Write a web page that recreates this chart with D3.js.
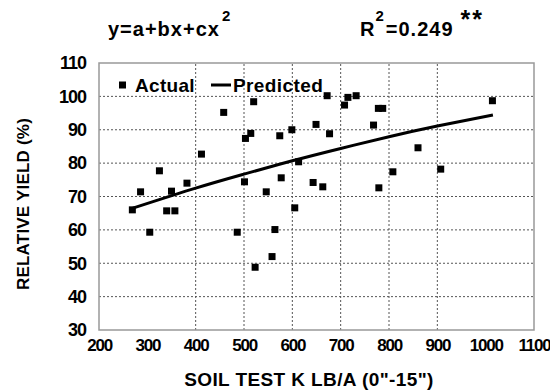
<!DOCTYPE html>
<html>
<head>
<meta charset="utf-8">
<script src="https://cdn.jsdelivr.net/npm/d3@7"></script>
<style>
  body { margin: 0; background: #fff; }
  svg { display: block; font-family: "Liberation Sans", Arial, sans-serif; font-weight: bold; }
</style>
</head>
<body>
<svg id="chart" width="550" height="392"></svg>
<script>
// ---- data ----
const actualX = [269, 286, 305, 325, 340, 350, 357, 382, 412, 458, 486, 501, 503, 514, 520, 523, 546, 558, 564, 574, 577, 599, 605, 613, 643, 649, 663, 672, 677, 708, 715, 732, 768, 778, 787, 779, 808, 860, 907, 1014];
const actualY = [66, 71.4, 59.3, 77.7, 65.7, 71.6, 65.7, 74, 82.7, 95.2, 59.3, 74.4, 87.4, 88.9, 98.4, 48.8, 71.4, 52, 60.1, 88.2, 75.6, 90, 66.6, 80.4, 74.2, 91.6, 72.9, 100.2, 88.8, 97.4, 99.7, 100.2, 91.4, 96.4, 96.4, 72.6, 77.4, 84.6, 78.2, 98.7];
const predX = [270, 400, 500, 600, 700, 800, 900, 1015];
const predY = [66.5, 72.5, 76.7, 80.7, 84.4, 87.9, 91.1, 94.4];
const xTicks = [200, 300, 400, 500, 600, 700, 800, 900, 1000, 1100];
const yTicks = [30, 40, 50, 60, 70, 80, 90, 100, 110];
const xGrid = [400, 500, 600, 700, 800, 900];
const yGrid = [40, 50, 60, 70, 80, 90, 100];

const svg = d3.select("#chart");
const m = { left: 99, right: 16, top: 63, bottom: 62 };
const W = 550, H = 392;
const x = d3.scaleLinear().domain([200, 1100]).range([m.left, W - m.right]);
const y = d3.scaleLinear().domain([30, 110]).range([H - m.bottom, m.top]);

// gridlines
svg.append("g").selectAll("line").data(yGrid).join("line")
  .attr("x1", x(200)).attr("x2", x(1100))
  .attr("y1", d => y(d)).attr("y2", d => y(d))
  .attr("stroke", "#555").attr("stroke-width", 1).attr("stroke-dasharray", "2,2");
svg.append("g").selectAll("line").data(xGrid).join("line")
  .attr("x1", d => x(d)).attr("x2", d => x(d))
  .attr("y1", y(30)).attr("y2", y(110))
  .attr("stroke", "#555").attr("stroke-width", 1).attr("stroke-dasharray", "2,2");

// frame
svg.append("rect")
  .attr("x", x(200)).attr("y", y(110))
  .attr("width", x(1100) - x(200)).attr("height", y(30) - y(110))
  .attr("fill", "none").attr("stroke", "#999").attr("stroke-width", 1.5);

// axes (labels only)
const xAxis = d3.axisBottom(x).tickValues(xTicks).tickFormat(d3.format("d")).tickSize(0).tickPadding(9);
const gx = svg.append("g").attr("transform", `translate(0,${y(30)})`).call(xAxis);
gx.select(".domain").remove();
gx.selectAll("text").attr("font-size", 17).attr("font-weight", "bold").attr("fill", "#000")
  .attr("font-family", "Liberation Sans, Arial, sans-serif").attr("letter-spacing", -1.2);

const yAxis = d3.axisLeft(y).tickValues(yTicks).tickFormat(d3.format("d")).tickSize(0).tickPadding(13);
const gy = svg.append("g").attr("transform", `translate(${x(200)},0)`).call(yAxis);
gy.select(".domain").remove();
gy.selectAll("text").attr("font-size", 18).attr("font-weight", "bold").attr("fill", "#000")
  .attr("font-family", "Liberation Sans, Arial, sans-serif").attr("letter-spacing", -1);

// predicted curve
const line = d3.line().x(d => x(d[0])).y(d => y(d[1])).curve(d3.curveNatural);
svg.append("path").datum(predX.map((v, i) => [v, predY[i]]))
  .attr("d", line).attr("fill", "none").attr("stroke", "#000").attr("stroke-width", 3);

// actual points
const s = 7;
svg.append("g").selectAll("rect").data(actualX.map((v, i) => [v, actualY[i]])).join("rect")
  .attr("x", d => x(d[0]) - s / 2).attr("y", d => y(d[1]) - s / 2)
  .attr("width", s).attr("height", s).attr("fill", "#000");

// legend
const ly = 85;
svg.append("rect").attr("x", 119).attr("y", ly - 3.5).attr("width", 7).attr("height", 7).attr("fill", "#000");
svg.append("text").attr("x", 135).attr("y", ly + 7).attr("font-size", 19).attr("letter-spacing", 0.3).text("Actual");
svg.append("line").attr("x1", 211).attr("x2", 231).attr("y1", ly).attr("y2", ly).attr("stroke", "#000").attr("stroke-width", 3);
svg.append("text").attr("x", 233).attr("y", ly + 7).attr("font-size", 19).attr("letter-spacing", 0.4).text("Predicted");

// equation and R2
const t1 = svg.append("text").attr("x", 108).attr("y", 36).attr("font-size", 20).attr("letter-spacing", 1);
t1.append("tspan").text("y=a+bx+cx");
t1.append("tspan").attr("dx", 2).attr("dy", -15).attr("font-size", 15).text("2");

const t2 = svg.append("text").attr("x", 360).attr("y", 36).attr("font-size", 20).attr("letter-spacing", 1);
t2.append("tspan").text("R");
t2.append("tspan").attr("dx", 0).attr("dy", -15).attr("font-size", 15).text("2");
t2.append("tspan").attr("dx", 1).attr("dy", 15).text("=0.249");
t2.append("tspan").attr("dx", 7).attr("dy", -8).attr("font-size", 25).attr("letter-spacing", 2).text("**");

// axis titles
svg.append("text").attr("x", 309).attr("y", 386)
  .attr("text-anchor", "middle").attr("font-size", 19).attr("letter-spacing", 0.4).text("SOIL TEST K LB/A (0\"-15\")");
svg.append("text").attr("transform", `translate(29,${204}) rotate(-90)`)
  .attr("text-anchor", "middle").attr("font-size", 17).attr("letter-spacing", 0.2).text("RELATIVE YIELD (%)");
</script>
</body>
</html>
